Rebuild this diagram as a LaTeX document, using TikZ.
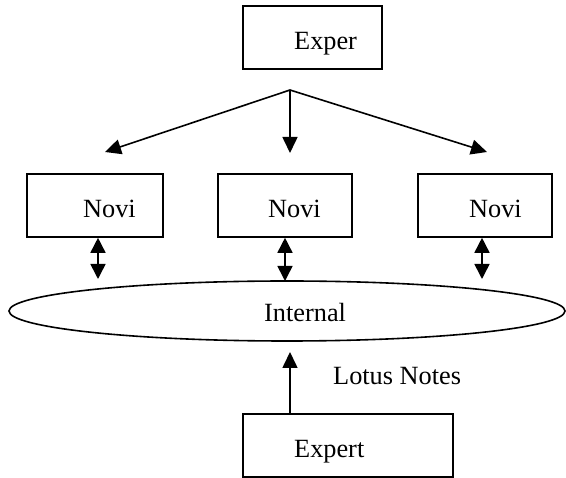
\documentclass[tikz,border=0pt]{standalone}
\usepackage{fontspec}
\setmainfont{Liberation Serif}
\usetikzlibrary{arrows.meta,shapes.geometric}
\begin{document}
\begin{tikzpicture}[x=1pt,y=-1pt,
  box/.style={draw,line width=1.6pt,rectangle,inner sep=0pt,minimum height=63pt},
  txt/.style={inner sep=0pt,anchor=base west,font=\fontsize{26.3}{30}\selectfont},
  arr/.style={line width=1.6pt,-{Triangle[length=16pt,width=15pt]}},
  dbl/.style={line width=1.6pt,{Triangle[length=15pt,width=15pt]}-{Triangle[length=15pt,width=15pt]}}]
\useasboundingbox (0,0) rectangle (566,478);

% boxes
\node[box,minimum width=139pt] (exper) at (312.5,37.5) {};
\node[box,minimum width=136pt] (novi1) at (95,205.5) {};
\node[box,minimum width=134pt] (novi2) at (285,205.5) {};
\node[box,minimum width=134pt] (novi3) at (485,205.5) {};
\node[box,minimum width=210pt] (expert) at (348,445.5) {};
\node[draw,line width=1.6pt,ellipse,inner sep=0pt,minimum width=556pt,minimum height=60pt] (net) at (287,311) {};

% labels
\node[txt] (lexper) at (294,50) {Exper};
\node[txt] (lnovi1) at (83,218) {Novi};
\node[txt] (lnovi2) at (268,218) {Novi};
\node[txt] (lnovi3) at (469,218) {Novi};
\node[txt] (lnet) at (264,322) {Internal};
\node[txt] (llotus) at (333,385) {Lotus Notes};
\node[txt] (lexpert) at (294,458) {Expert};

% distribution from the top box
\coordinate (split) at (290,90);
\coordinate (t1) at (105,152);
\coordinate (t2) at (290,153);
\coordinate (t3) at (487,152);
\draw[arr] (split) -- (t1);
\draw[arr] (split) -- (t2);
\draw[arr] (split) -- (t3);

% two-way links to the network
\coordinate (d1) at (98,279);
\coordinate (d2) at (285,281);
\coordinate (d3) at (482,279);
\draw[dbl] (d1 |- novi1.south) -- (d1);
\draw[dbl] (d2 |- novi2.south) -- (d2);
\draw[dbl] (d3 |- novi3.south) -- (d3);

% upload from the expert
\coordinate (up) at (290,352);
\draw[arr] (up |- expert.north) -- (up);
\end{tikzpicture}
\end{document}
